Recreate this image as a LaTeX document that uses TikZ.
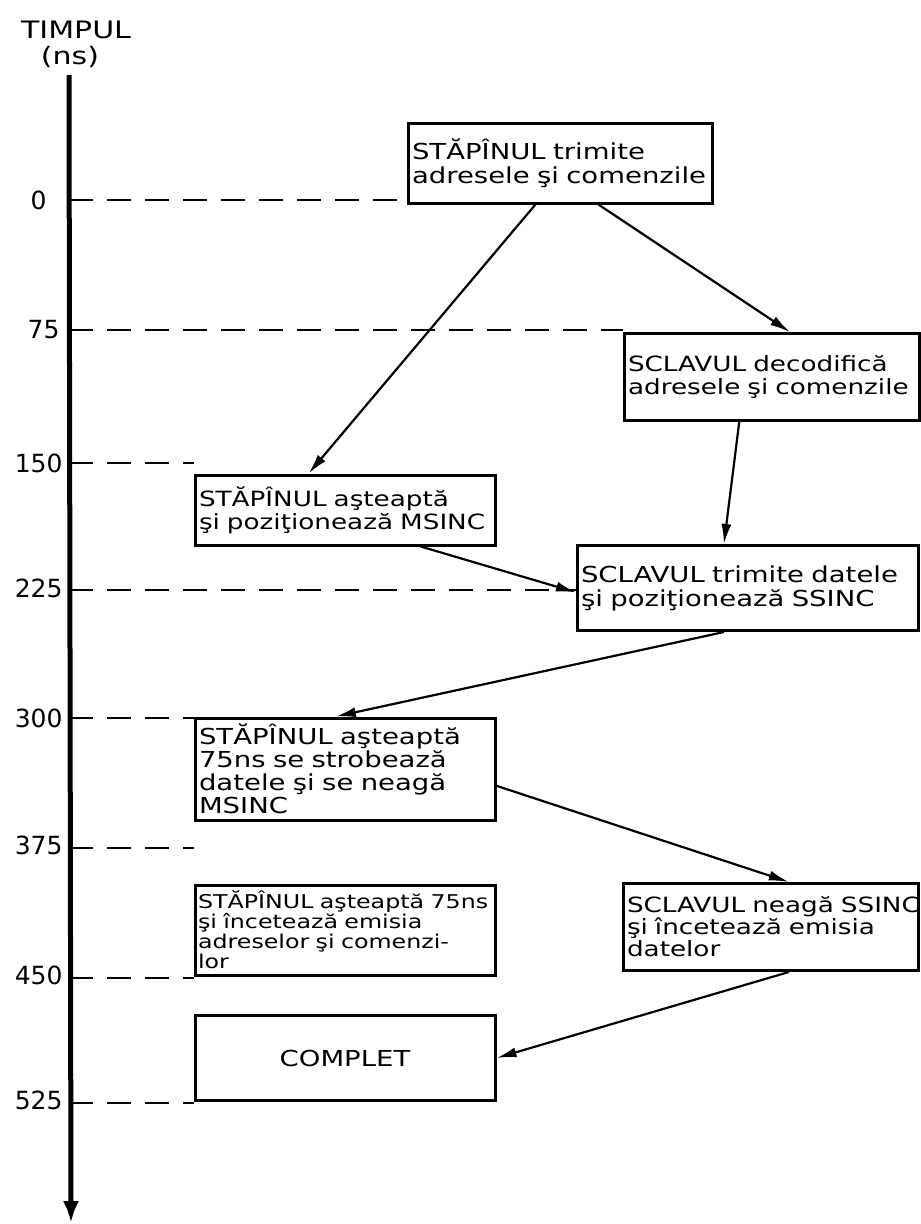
\documentclass[tikz,border=0pt]{standalone}
\usepackage{fontspec}
\setmainfont{DejaVu Sans}[FakeStretch=1.25]
\newfontfamily\tickfont{DejaVu Sans}
\usetikzlibrary{arrows.meta,calc}
\begin{document}
\begin{tikzpicture}[x=1pt,y=-1pt,
  box/.style={draw,line width=3pt,rectangle,inner sep=3pt,align=left,
    font=\fontsize{22}{24}\selectfont,text width=#1},
  box/.default=280pt,
  conn/.style={line width=2.2pt,-{Latex[length=20pt,width=10pt]}},
  guide/.style={line width=2.2pt,dash pattern=on 24pt off 14pt},
  tick/.style={font=\tickfont\fontsize{25}{26}\selectfont},
  axis/.style={line width=5pt,-{Latex[length=22pt,width=16pt]}}]
\useasboundingbox (0,0) rectangle (921,1224);

% axis
\node[font=\fontsize{24}{24}\selectfont] (title) at (76,30) {TIMPUL};
\node[font=\fontsize{24}{24}\selectfont] (unit) at (70,57) {(ns)};
\coordinate (atop) at (69,75);
\coordinate (abot) at (71,1223);
\draw[axis] (atop) -- (abot);

% boxes
\node[box=296pt,minimum width=304pt,minimum height=80pt] (b1) at (560,163)
  {\mbox{STĂPÎNUL trimite}\\\mbox{adresele şi comenzile}};
\node[box=288pt,minimum width=295pt,minimum height=87pt,font=\fontsize{21}{23}\selectfont] (b2) at (772,377)
  {\mbox{SCLAVUL decodifică}\\\mbox{adresele şi comenzile}};
\node[box=292pt,minimum width=300pt,minimum height=70pt,font=\fontsize{21}{23}\selectfont] (b3) at (345,510)
  {\mbox{STĂPÎNUL aşteaptă}\\\mbox{şi poziţionează MSINC}};
\node[box=334pt,minimum width=341pt,minimum height=85pt] (b4) at (748,588)
  {\mbox{SCLAVUL trimite datele}\\\mbox{şi poziţionează SSINC}};
\node[box=292pt,minimum width=300pt,minimum height=102pt,font=\fontsize{22}{23}\selectfont] (b5) at (345,769)
  {\mbox{STĂPÎNUL aşteaptă}\\\mbox{75ns se strobează}\\\mbox{datele şi se neagă}\\\mbox{MSINC}};
\node[box=294pt,minimum width=300pt,minimum height=90pt,font=\fontsize{19}{20}\selectfont] (b6) at (345,930)
  {\mbox{STĂPÎNUL aşteaptă 75ns}\\\mbox{şi încetează emisia}\\\mbox{adreselor şi comenzi-}\\\mbox{lor}};
\node[box=288pt,minimum width=295pt,minimum height=87pt,font=\fontsize{21}{22}\selectfont] (b7) at (771,927)
  {\mbox{SCLAVUL neagă SSINC}\\\mbox{şi încetează emisia}\\\mbox{datelor}};
\node[draw,line width=3pt,minimum width=300pt,minimum height=85pt,
  font=\fontsize{22}{24}\selectfont] (b8) at (345,1058) {COMPLET};

% tick labels and dashed guides
\node[tick,anchor=east] (t0) at (50,200) {0};
\node[tick,anchor=east] (t75) at (63,330) {75};
\node[tick,anchor=east] (t150) at (66,463) {150};
\node[tick,anchor=east] (t225) at (66,588) {225};
\node[tick,anchor=east] (t300) at (66,718) {300};
\node[tick,anchor=east] (t375) at (66,845) {375};
\node[tick,anchor=east] (t450) at (66,975) {450};
\node[tick,anchor=east] (t525) at (66,1100) {525};

\coordinate (g0) at (69,200);
\coordinate (g75) at (69,330);
\coordinate (g150) at (69,463);
\coordinate (g225) at (69,590);
\coordinate (g300) at (69,718);
\coordinate (g375) at (69,848);
\coordinate (g450) at (69,978);
\coordinate (g525) at (69,1103);
\draw[guide] (g0) -- (g0 -| b1.west);
\draw[guide] (g75) -- (g75 -| b2.west);
\draw[guide] (g150) -- (g150 -| b3.west);
\draw[guide] (g225) -- (g225 -| b4.west);
\draw[guide] (g300) -- (g300 -| b5.west);
\draw[guide] (g375) -- (g375 -| b5.west);
\draw[guide] (g450) -- (g450 -| b6.west);
\draw[guide] (g525) -- (g525 -| b8.west);

% connectors
\draw[conn] ($(b1.south west)!0.42!(b1.south east)$) -- ($(b3.north west)!0.38!(b3.north east)$);
\draw[conn] ($(b1.south west)!0.625!(b1.south east)$) -- ($(b2.north west)!0.56!(b2.north east)$);
\draw[conn] ($(b2.south west)!0.39!(b2.south east)$) -- ($(b4.north west)!0.43!(b4.north east)$);
\draw[conn] ($(b3.south west)!0.75!(b3.south east)$) -- ($(b4.north west)!0.55!(b4.south west)$);
\draw[conn] ($(b4.south west)!0.43!(b4.south east)$) -- ($(b5.north west)!0.47!(b5.north east)$);
\draw[conn] ($(b5.north east)!0.66!(b5.south east)$) -- ($(b7.north west)!0.56!(b7.north east)$);
\draw[conn] ($(b7.south west)!0.56!(b7.south east)$) -- (b8.east);
\end{tikzpicture}
\end{document}
